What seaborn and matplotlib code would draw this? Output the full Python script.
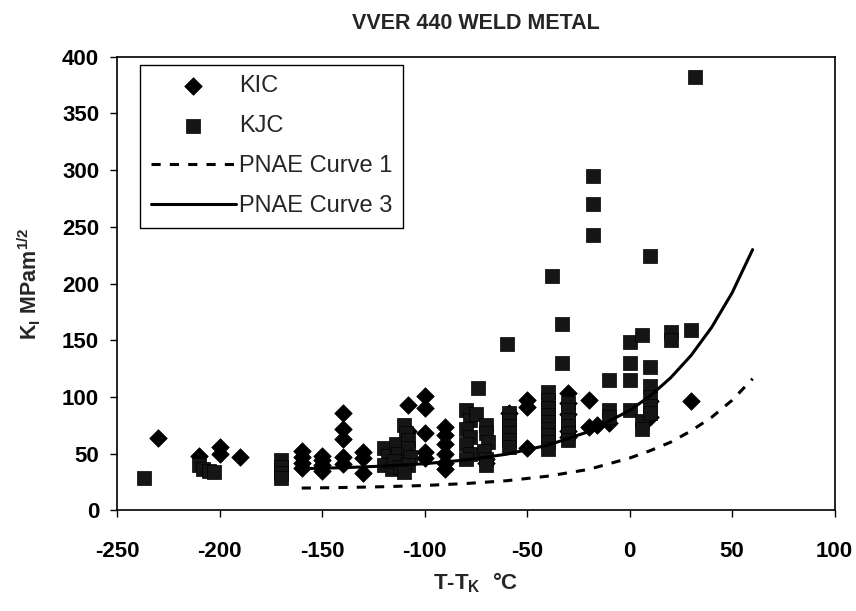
import matplotlib
matplotlib.use("Agg")
import matplotlib.pyplot as plt
import seaborn as sns
import pandas as pd

# ---- data ----
kic_x = [-230, -210, -200, -200, -190,
         -160, -160, -160, -160,
         -150, -150, -150, -150,
         -140, -140, -140, -140, -140,
         -130, -130, -130,
         -108, -108,
         -100, -100, -100, -100, -100,
         -90, -90, -90, -90, -90, -90,
         -70, -70,
         -59,
         -50, -50, -50,
         -30, -30, -30, -30, -30,
         -20, -20, -16, -10,
         10, 10, 30]
kic_y = [64, 48, 56, 50, 47,
         52, 47, 42, 37,
         48, 44, 40, 35,
         86, 72, 63, 47, 41,
         51, 46, 33,
         93, 70,
         101, 90, 68, 51, 46,
         73, 66, 58, 50, 42, 36,
         45, 42,
         86,
         97, 91, 55,
         103, 95, 85, 70, 65,
         97, 73, 75, 77,
         96, 82, 96]

kjc_x = [-237, -210, -208, -205, -203,
         -170, -170, -170, -170,
         -120, -118, -120, -116, -114, -113, -115, -112,
         -110, -109, -108, -108, -107, -108, -110,
         -74, -80, -78, -80, -78, -80, -78, -80, -75,
         -70, -70, -69, -71, -70, -70,
         -60, -59, -59, -59, -59, -59, -59,
         -38, -40, -40, -40, -40, -40, -40, -40, -40, -40,
         -33, -33,
         -30, -30, -30, -30, -30, -30,
         -18, -18, -18,
         -10, -10, -10,
         0, 0, 0, 0,
         6, 6, 6,
         10, 10, 10, 10, 10, 10,
         20, 20, 30, 32]
kjc_y = [28, 40, 36, 35, 34,
         44, 38, 33, 28,
         55, 48, 40, 36, 58, 50, 43, 38,
         75, 68, 62, 55, 47, 40, 34,
         108, 88, 80, 72, 65, 58, 50, 45, 85,
         75, 68, 60, 52, 45, 40,
         147, 86, 80, 74, 68, 62, 56,
         207, 104, 97, 90, 84, 78, 72, 66, 60, 54,
         164, 130,
         95, 88, 80, 74, 68, 62,
         295, 270, 243,
         115, 88, 82,
         148, 130, 115, 88,
         155, 79, 72,
         224, 126, 110, 100, 92, 86,
         157, 150, 159, 382]

curve_t = [-160, -140, -120, -100, -80, -60, -40, -20, 0, 10, 20, 30, 40, 50, 60]
curve1_k = [19.5, 20, 20.7, 21.8, 23.5, 26, 30, 36, 46, 52.5, 60, 70, 82, 97, 116]
curve3_k = [36.6, 37.5, 38.9, 41, 44.3, 49.4, 57.3, 69.3, 88, 100.8, 116.8, 136.6, 161.3, 191.8, 229.9]

x_ticks = [-250, -200, -150, -100, -50, 0, 50, 100]
y_ticks = [0, 50, 100, 150, 200, 250, 300, 350, 400]

# ---- style ----
sns.set_style("ticks")
plt.rcParams["font.family"] = ["Liberation Sans", "DejaVu Sans"]
plt.rcParams["axes.unicode_minus"] = False
plt.rcParams["mathtext.fontset"] = "custom"
plt.rcParams["mathtext.rm"] = "Liberation Sans:bold"
plt.rcParams["mathtext.it"] = "Liberation Sans:bold"
plt.rcParams["mathtext.bf"] = "Liberation Sans:bold"
plt.rcParams["mathtext.default"] = "rm"

fig = plt.figure(figsize=(8.56, 6.11), dpi=100)
ax = fig.add_axes([0.137, 0.165, 0.838, 0.742])

kic = pd.DataFrame({"T": kic_x, "K": kic_y})
kjc = pd.DataFrame({"T": kjc_x, "K": kjc_y})
curves = pd.DataFrame({"T": curve_t, "c1": curve1_k, "c3": curve3_k})

sns.scatterplot(data=kic, x="T", y="K", ax=ax, marker="D", s=80,
                color="black", edgecolor="black", linewidth=0.5, label="KIC", zorder=3)
sns.scatterplot(data=kjc, x="T", y="K", ax=ax, marker="s", s=95,
                color="#151515", edgecolor="black", linewidth=0.5, label="KJC", zorder=3)
sns.lineplot(data=curves, x="T", y="c1", ax=ax, color="black", lw=2.2,
             linestyle=(0, (3, 3)), label="PNAE Curve 1", zorder=4)
sns.lineplot(data=curves, x="T", y="c3", ax=ax, color="black", lw=2.2,
             label="PNAE Curve 3", zorder=4)

ax.set_xlim(-250, 100)
ax.set_ylim(0, 400)
ax.set_xticks(x_ticks)
ax.set_yticks(y_ticks)
ax.tick_params(direction="out", length=5, width=1, labelsize=16, colors="black")
ax.tick_params(axis="x", pad=17)
ax.tick_params(axis="y", pad=8)
for lab in ax.get_xticklabels() + ax.get_yticklabels():
    lab.set_fontweight("bold")
for sp in ax.spines.values():
    sp.set_color("black")
    sp.set_linewidth(1.2)
    sp.set_visible(True)

ax.set_xlabel("T-T$_\\mathrm{K}$  \u00b0C", fontsize=16, fontweight="bold", labelpad=6)
ax.set_ylabel("K$_\\mathrm{I}$ MPam$^\\mathrm{1/2}$", fontsize=15.5, fontweight="bold", labelpad=14)
ax.set_title("VVER 440 WELD METAL", fontsize=15.5, fontweight="bold", pad=20)

leg = ax.legend(loc="upper left", bbox_to_anchor=(0.032, 0.983), fontsize=17,
                frameon=True, fancybox=False, framealpha=1, edgecolor="black",
                handlelength=3.6, handletextpad=0.12, borderpad=0.45, labelspacing=0.76,
                borderaxespad=0, markerscale=1.0)
leg.get_frame().set_linewidth(1.0)

fig.savefig("out.png", dpi=100)
